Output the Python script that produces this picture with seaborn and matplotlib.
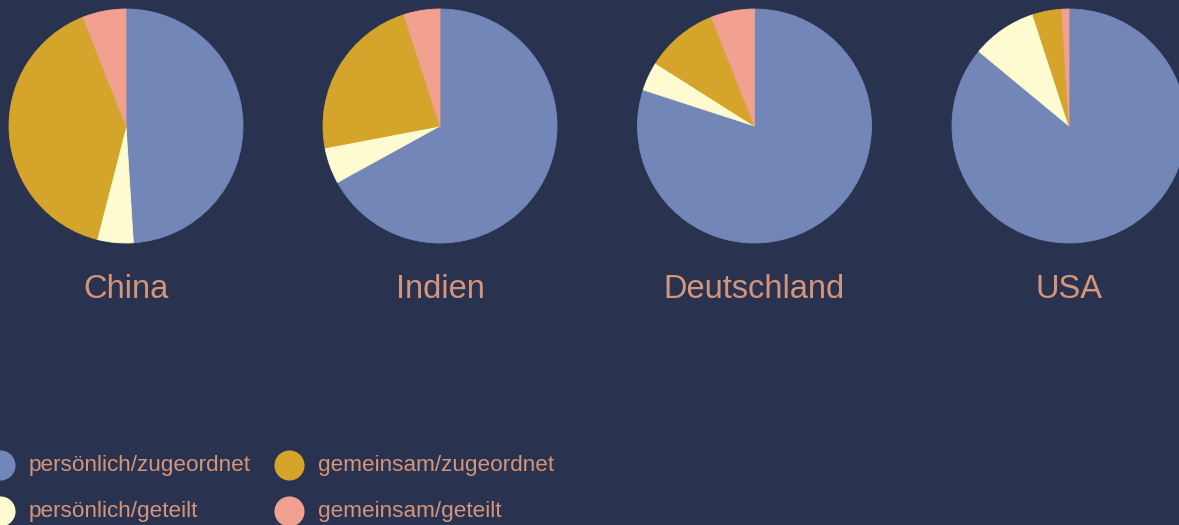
import matplotlib
matplotlib.use("Agg")
import matplotlib.pyplot as plt
import seaborn as sns

# Shares (%) per country, clockwise from 12 o'clock
countries = ["China", "Indien", "Deutschland", "USA"]
categories = ["persönlich/zugeordnet", "persönlich/geteilt",
              "gemeinsam/zugeordnet", "gemeinsam/geteilt"]
persoenlich_zugeordnet = [49, 67, 80, 86]
persoenlich_geteilt = [5, 5, 4, 9]
gemeinsam_zugeordnet = [40, 23, 10, 4]
gemeinsam_geteilt = [6, 5, 6, 1]

BG = "#293350"
TEXT = "#D4957A"
palette = sns.color_palette(["#7286B8", "#FFFBD0", "#D4A52A", "#F2A08F"])

sns.set_theme(style="white", rc={"figure.facecolor": BG, "axes.facecolor": BG,
                                 "savefig.facecolor": BG})
plt.rcParams["font.family"] = ["Liberation Sans", "DejaVu Sans"]

W, H = 1179, 525
fig = plt.figure(figsize=(W / 100, H / 100), dpi=100)

series = list(zip(persoenlich_zugeordnet, persoenlich_geteilt,
                  gemeinsam_zugeordnet, gemeinsam_geteilt))

# Overlay axes in pixel units for labels and the legend
lay = fig.add_axes([0, 0, 1, 1])
lay.set_xlim(0, W)
lay.set_ylim(H, 0)
lay.axis("off")

R = 117
centers_x = [126, 440, 754.5, 1069]
cy = 126
for name, vals, cx in zip(countries, series, centers_x):
    ax = fig.add_axes([(cx - R) / W, (H - cy - R) / H, 2 * R / W, 2 * R / H])
    wedges, _ = ax.pie(vals, colors=palette, startangle=90, counterclock=False,
                       radius=1.0, wedgeprops={"linewidth": 0.6})
    for w in wedges:
        w.set_edgecolor(w.get_facecolor())
    ax.set_xlim(-1, 1)
    ax.set_ylim(-1, 1)
    ax.set_aspect("equal")
    ax.axis("off")
    lay.text(cx, 290, name, color=TEXT, fontsize=23.5,
             ha="center", va="center")

# Legend: two columns of round swatches
leg_x = [0, 0, 289, 289]
leg_y = [465, 511, 465, 511]
for lx, ly, col, lab in zip(leg_x, leg_y, palette, categories):
    lay.scatter([lx], [ly], s=470, color=col, linewidths=0, clip_on=False)
    lay.text(lx + 29, ly, lab, color=TEXT, fontsize=16.2,
             ha="left", va="center")

fig.savefig("out.png", dpi=100, facecolor=BG)
